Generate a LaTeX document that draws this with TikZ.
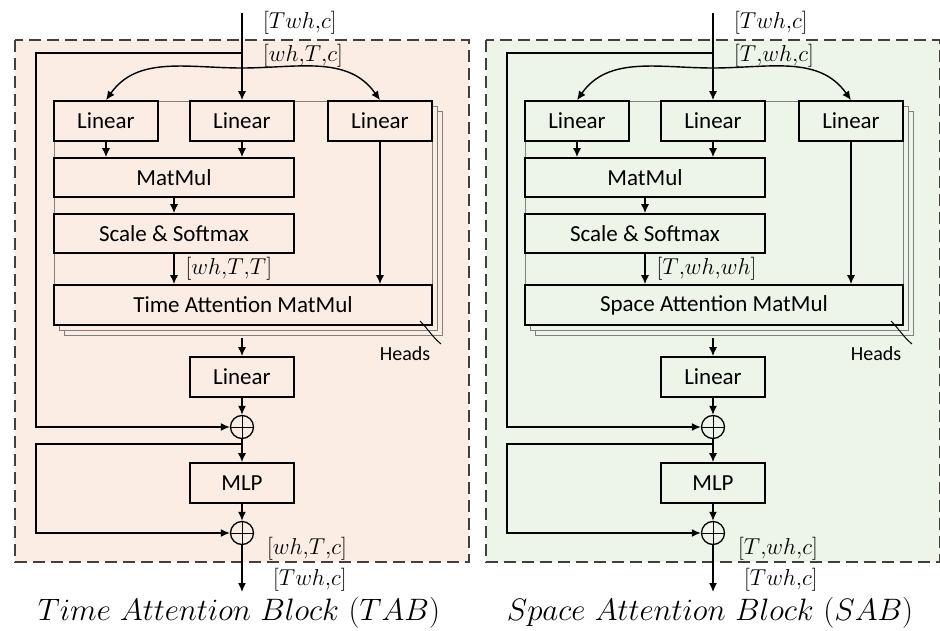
\RequirePackage{fix-cm}
\documentclass[tikz,border=0pt]{standalone}
\usepackage{fontspec}
\newfontfamily\calibri{Carlito}
\usepackage{tikz}
\usetikzlibrary{arrows.meta}
\definecolor{tabfill}{RGB}{251,236,228}
\definecolor{sabfill}{RGB}{237,245,232}
\definecolor{framegray}{RGB}{64,64,64}
\tikzstyle{arrow} = [-{Latex[length=9pt,width=8pt]}, line width=1.4pt]
\tikzstyle{block} = [rectangle, draw, line width=1.6pt, minimum height=40pt, inner sep=0pt, font=\calibri\fontsize{23}{26}\selectfont]
\tikzstyle{shapelab} = [anchor=west, inner sep=0pt, font=\fontsize{23}{26}\selectfont]
\tikzstyle{addnode} = [circle, draw, line width=1.3pt, minimum size=23pt, inner sep=0pt]

\begin{document}
\begin{tikzpicture}[x=1pt, y=-1pt]
  \useasboundingbox (0,0) rectangle (940,631);
  \foreach \dx/\col/\p/\dims/\scorelab/\attn/\blk in {0/tabfill/t/{[wh{,}T{,}c]}/{[wh{,}T{,}T]}/Time/TAB, 471/sabfill/s/{[T{,}wh{,}c]}/{[T{,}wh{,}wh]}/Space/SAB} {
  \begin{scope}[xshift=\dx pt]
    % panel and stacked heads
    \draw[framegray, line width=2.2pt, dash pattern=on 12pt off 6pt, fill=\col] (15,40) rectangle (469,562);
    \draw[gray, fill=\col] (64,111) rectangle (442,335);
    \draw[gray, fill=\col] (59,106) rectangle (437,330);
    \draw[gray, fill=\col] (54,101) rectangle (432,325);

    \node (\p lin2) [block, minimum width=104pt] at (242,121) {Linear};
    \node (\p lin1) [block, minimum width=104pt, left of=\p lin2, node distance=136pt] {Linear};
    \node (\p lin3) [block, minimum width=104pt, right of=\p lin2, node distance=138pt] {Linear};
    \node (\p matmul) [block, minimum width=240pt, minimum height=39pt] at (174,177.5) {MatMul};
    \node (\p scale) [block, minimum width=240pt, minimum height=39pt, below of=\p matmul, node distance=56pt] {Scale \& Softmax};
    \node (\p tam) [block, minimum width=378pt] at (243,305) {\attn{} Attention MatMul};
    \node (\p lin4) [block, minimum width=104pt] at (242,377) {Linear};
    \node (\p add1) [addnode, below of=\p lin4, node distance=50pt] {};
    \node (\p mlp) [block, minimum width=104pt, below of=\p add1, node distance=56pt] {MLP};
    \node (\p add2) [addnode, below of=\p mlp, node distance=50pt] {};
    \draw[line width=1pt] (\p add1.north) -- (\p add1.south) (\p add1.west) -- (\p add1.east);
    \draw[line width=1pt] (\p add2.north) -- (\p add2.south) (\p add2.west) -- (\p add2.east);

    \coordinate (\p in) at (242,13);
    \coordinate (\p res) at (242,53);
    \coordinate (\p fork) at (242,68);
    \coordinate (\p hb) at (242,338);
    \coordinate (\p skip) at (242,444);
    \coordinate (\p out) at (242,592);

    \draw[line width=1.4pt] (\p in) -- (\p fork);
    \draw[arrow] (\p fork) -- (\p lin2);
    \draw[arrow] (\p fork) to[out=180, in=55] (\p lin1.north);
    \draw[arrow] (\p fork) to[out=0, in=125] (\p lin3.north);
    \draw[arrow] (\p lin1) -- (\p lin1 |- \p matmul.north);
    \draw[arrow] (\p lin2) -- (\p lin2 |- \p matmul.north);
    \draw[arrow] (\p matmul) -- (\p scale);
    \draw[arrow] (\p scale) -- node (\p scoredim) [shapelab, xshift=11pt] {$\scorelab$} (\p scale |- \p tam.north);
    \draw[arrow] (\p lin3) -- (\p lin3 |- \p tam.north);
    \draw[arrow] (\p hb) -- (\p lin4);
    \draw[arrow] (\p lin4) -- (\p add1);
    \draw[arrow] (\p add1) -- (\p mlp);
    \draw[arrow] (\p mlp) -- (\p add2);
    \draw[arrow] (\p add2) -- (\p out);
    \draw[arrow] (\p res) -- ++(-206,0) |- (\p add1);
    \draw[arrow] (\p skip) -- ++(-206,0) |- (\p add2);

    \node (\p indim) [shapelab] at (263,23) {$[Twh{,}c]$};
    \node (\p middim) [shapelab] at (263,56) {$\dims$};
    \node (\p enddim) [shapelab] at (267,549) {$\dims$};
    \node (\p outdim) [shapelab] at (273,580) {$[Twh{,}c]$};
    \node (\p heads) [font=\calibri\fontsize{20}{22}\selectfont] at (405,354) {Heads};
    \draw[line width=1pt] (420,321) to[out=-45, in=140] (441,344);
    \node (\p caption) [font=\fontsize{31}{34}\selectfont] at (239,613) {$\attn\ Attention\ Block\ (\blk)$};
  \end{scope}}
\end{tikzpicture}
\end{document}
